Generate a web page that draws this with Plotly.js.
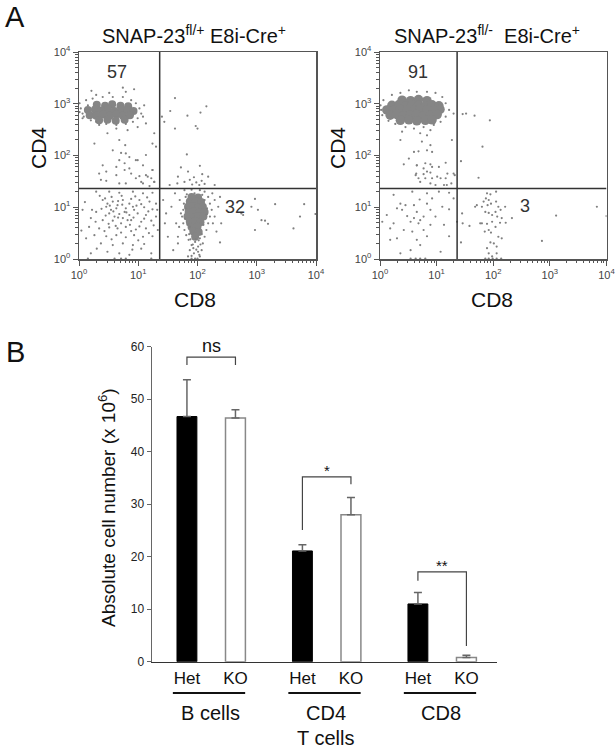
<!DOCTYPE html>
<html>
<head>
<meta charset="utf-8">
<script src="https://cdn.plot.ly/plotly-3.0.1.min.js"></script>
<style>
  body { margin: 0; background: #fff; }
  #fig { width: 616px; height: 750px; }
</style>
</head>
<body>
<div id="fig"></div>
<script>
// ---------- panel A : flow plots, points as [log10 CD8, log10 CD4] ----------
var gateValue = 23;
var quadrantHet = ["57", "32"];
var quadrantKO = ["91", "3"];

// SNAP-23 fl/+ : scattered events
var hetSparse = [
  [0.21,3.25],[0.74,3.31],[0.51,3.21],[0.93,3.28],[0.29,3.17],[0.79,3.23],
  [0.01,3.01],[0.03,2.91],[0.06,2.81],[0.08,2.75],[0.01,2.84],[0.12,3.07],[0.23,3.10],[0.40,3.13],
  [0.57,3.13],[0.74,3.13],[0.88,3.07],[0.96,3.01],[1.02,2.91],[1.05,2.81],[0.99,2.72],[0.91,2.65],
  [0.79,2.61],[0.63,2.59],[0.46,2.61],[0.29,2.65],[0.20,2.68],[1.08,2.75],[1.10,2.97],[0.15,2.97],
  [0.06,2.72],[0.34,2.59],[0.63,2.52],[0.82,2.49],[1.13,2.62],[0.99,2.55],[0.48,2.43],[0.68,2.30],
  [0.26,2.23],[0.78,2.20],[1.27,2.43],[1.24,2.23],[0.57,2.10],[1.30,2.17],
  [0.85,1.97],[0.68,1.91],[0.99,1.91],[1.08,1.81],[0.63,1.78],[0.77,1.72],[0.88,1.65],[0.46,1.69],
  [1.13,1.62],[1.22,1.56],[1.24,1.72],[0.96,1.56],[1.05,1.49],[1.27,1.49],[0.79,1.46],[0.37,1.53],
  [0.71,2.05],[0.79,2.04],[1.13,2.01],[0.40,1.81],[0.77,1.85],[0.85,1.75],[0.96,1.91],[0.34,1.65],
  [0.63,1.62],[1.02,1.60],[1.16,1.59],[1.24,1.72],[1.27,1.49],[0.68,1.46],[0.46,1.51],[1.08,1.46],[1.19,1.41],
  [0.29,1.30],[0.51,1.30],[0.68,1.28],[0.91,1.30],[1.08,1.27],[1.24,1.28],[0.40,1.14],[0.57,1.11],
  [0.74,1.14],[0.85,1.07],[1.02,1.14],[1.19,1.11],[1.30,1.07],[0.46,1.01],[0.63,0.98],[0.79,0.98],
  [0.93,0.95],[1.10,1.00],[1.24,0.96],[0.06,0.95],[0.29,0.91],[0.51,0.88],[0.68,0.87],[0.85,0.85],
  [0.99,0.88],[1.13,0.85],[1.30,0.82],[0.20,0.79],[0.40,0.75],[0.57,0.74],[0.74,0.79],[0.88,0.75],
  [1.05,0.72],[1.22,0.74],[0.17,0.62],[0.34,0.59],[0.51,0.61],[0.65,0.59],[0.79,0.62],[0.96,0.57],
  [1.13,0.59],[1.33,0.56],[0.26,0.46],[0.46,0.44],[0.63,0.46],[0.79,0.42],[0.93,0.46],[1.08,0.43],
  [1.24,0.44],[0.37,0.30],[0.57,0.27],[0.74,0.30],[0.91,0.27],[1.10,0.29],[0.20,0.11],[0.48,0.14],
  [0.68,0.11],[0.85,0.08],[1.22,0.11],[0.15,0.01],[0.60,0.01],[0.71,0.01],[0.79,0.01],[1.22,0.01],
  [0.48,1.07],[0.65,1.04],[0.77,0.91],[0.60,0.82],[0.82,0.75],[0.91,1.01],[0.71,0.69],[0.54,0.95],
  [0.35,1.22],[0.55,1.20],[0.72,1.22],[0.95,1.21],[1.15,1.19],[0.44,1.17],[0.66,1.12],[0.88,1.16],
  [1.05,1.06],[0.52,1.03],[0.73,1.05],[0.97,1.03],[0.38,0.97],[0.58,0.92],[0.80,0.90],[1.17,0.92],
  [0.45,0.84],[0.66,0.80],[0.92,0.80],[1.10,0.78],[0.28,0.72],[0.50,0.68],[0.62,0.64],[0.86,0.66],
  [1.02,0.63],[1.26,0.65],[0.43,0.54],[0.71,0.51],[0.88,0.54],[1.18,0.50],[0.12,0.40],[0.55,0.38],
  [1.00,0.36],[0.30,0.20],[0.90,0.18],[1.05,0.20],[0.04,0.55],[0.10,1.10],[0.22,0.95],[1.32,0.95],
  [1.62,3.11],[1.54,2.86],[1.40,2.75],[1.44,2.65],[1.83,2.77],[2.05,2.83],[2.15,2.95],[1.62,2.52],
  [1.97,2.57],[2.00,2.52],[1.82,2.02],[1.72,1.77],[2.04,1.80],[1.84,1.69],[1.67,1.59],[1.94,1.58],
  [2.08,1.64],[2.18,1.59],[1.78,1.49],[1.87,1.53],[1.98,1.48],[2.07,1.51],[2.12,1.45],[2.29,1.43],
  [1.53,1.43],[1.66,1.46],[1.91,1.44],[2.03,1.43],
  [1.42,1.14],[1.47,0.88],[1.56,1.01],[1.64,0.69],[1.50,0.43],[1.59,0.17],[1.67,0.30],[1.45,0.69],
  [1.62,1.27],[2.38,1.20],[2.35,1.01],[2.40,0.69],[2.38,0.32],[2.29,0.82],[2.32,0.53],[2.77,0.85],
  [2.91,1.01],[2.97,1.16],[3.02,0.95],[3.08,0.75],[3.14,0.74],[3.19,0.68],[3.31,1.06],[3.62,0.59],
  [3.73,0.82],[3.80,1.06],[2.97,0.56],[3.99,0.87],[2.74,0.88],
  [1.78,1.33],[1.90,1.34],[2.04,1.33],[2.12,1.30],[2.18,1.20],[2.21,1.07],[2.24,0.95],[2.21,0.82],
  [2.18,0.69],[2.15,0.56],[2.12,0.43],[2.09,0.30],[2.07,0.17],[2.04,0.05],[1.90,0.01],[1.96,0.01],
  [2.00,0.01],[1.84,0.05],[1.87,0.17],[1.90,0.27],[1.85,0.37],[1.81,0.46],[1.78,0.56],[1.76,0.69],
  [1.74,0.82],[1.76,0.95],[1.77,1.07],[1.80,1.20],[1.96,0.33],[2.01,0.24],[1.94,0.11],[2.01,0.14],
  [1.93,0.21],[2.04,0.40],[1.87,0.62],[2.12,1.14],[1.70,1.14],[1.72,0.88],[1.69,0.62],[1.67,0.43],
  [2.26,0.69],[2.29,1.14],[2.25,1.27],
  [1.82,1.25],[1.95,1.27],[2.08,1.24],[1.80,0.98],[2.16,0.98],[1.79,0.78],[2.15,0.86],[1.83,0.66],
  [2.10,0.66],[1.86,0.48],[2.07,0.48],[1.88,0.38],[2.02,0.36],[1.92,0.28],[2.05,0.28],[1.98,0.18],
  [1.90,0.06],[2.03,0.08],[1.97,0.38]
];
// SNAP-23 fl/+ : dense centres of the two clusters
var hetDense = [
  [0.30,2.98],[0.44,2.96],[0.56,2.99],[0.70,2.96],[0.83,2.95],
  [0.15,2.88],[0.27,2.89],[0.38,2.87],[0.49,2.89],[0.60,2.86],[0.72,2.89],[0.82,2.87],[0.92,2.86],
  [0.18,2.78],[0.29,2.77],[0.41,2.79],[0.52,2.77],[0.63,2.79],[0.74,2.77],[0.86,2.78],
  [0.34,2.68],[0.48,2.69],[0.62,2.67],[0.77,2.69],
  [1.90,1.20],[2.01,1.19],[1.87,1.11],[1.97,1.12],[2.06,1.10],
  [1.84,1.01],[1.93,1.02],[2.01,1.00],[2.09,1.01],[1.85,0.91],[1.94,0.92],[2.03,0.90],[2.12,0.91],
  [1.83,0.82],[1.92,0.81],[2.01,0.83],[2.10,0.82],[1.87,0.72],[1.96,0.73],[2.05,0.71],
  [1.90,0.62],[2.00,0.63],[1.93,0.53],[2.02,0.52],[1.96,0.43]
];

// SNAP-23 fl/- : scattered events
var koSparse = [
  [0.01,2.97],[0.02,2.88],[0.04,2.78],[0.06,3.07],[0.21,3.17],[0.36,3.21],[0.51,3.26],[0.65,3.23],
  [0.83,3.23],[0.98,3.21],[1.10,3.13],[1.16,3.01],[1.22,2.88],[1.16,2.75],[1.07,2.65],[0.95,2.59],
  [0.77,2.55],[0.60,2.52],[0.45,2.55],[0.27,2.61],[0.15,2.67],[1.30,2.81],[0.89,2.49],[0.83,2.39],
  [0.71,2.43],[0.39,2.46],
  [0.36,2.30],[0.74,2.27],[0.89,2.20],[1.27,2.30],[0.83,2.10],[0.51,1.94],[0.65,1.81],[0.77,1.75],
  [0.92,1.78],[0.83,1.69],[0.63,1.62],[1.01,1.59],[1.16,1.56],[0.71,1.49],[0.89,1.46],[1.30,1.65],[1.18,1.43],
  [0.60,2.07],[0.68,2.08],[0.92,2.07],[0.42,1.83],[0.65,1.81],[0.80,1.85],[0.89,1.83],[1.04,1.78],
  [1.16,1.86],[0.64,1.65],[0.77,1.64],[0.89,1.67],[1.19,1.65],[1.32,1.62],[1.07,1.56],[0.68,1.56],
  [0.80,1.56],[0.92,1.56],[0.98,1.43],[1.13,1.43],[1.26,1.46],
  [0.24,1.24],[0.57,1.30],[0.83,1.27],[1.04,1.30],[1.22,1.28],[0.70,1.15],[0.92,1.17],[1.30,1.17],
  [0.36,1.07],[0.45,1.04],[0.60,1.04],[0.83,1.07],[1.10,1.01],[0.30,0.98],[0.39,0.95],[0.65,0.91],
  [0.89,0.95],[1.22,0.96],[0.12,0.85],[0.48,0.83],[0.60,0.79],[0.71,0.75],[0.77,0.82],[0.98,0.82],
  [0.24,0.69],[0.54,0.72],[0.68,0.69],[0.89,0.66],[1.13,0.66],[1.36,0.72],[0.04,0.72],[0.18,0.59],
  [0.42,0.56],[0.57,0.53],[0.77,0.56],[0.83,0.44],[1.22,0.44],[0.30,0.40],[0.65,0.37],[0.71,0.27],
  [0.18,0.37],[0.36,0.11],[0.54,0.17],[1.07,0.14],[0.54,0.01],[0.63,0.01],[0.71,0.01],[0.80,0.01],
  [1.46,2.80],[1.52,2.81],[1.67,2.77],[1.94,2.68],[1.81,2.17],[1.43,1.89],[1.74,1.57],
  [1.89,1.27],[1.95,1.25],[1.87,1.17],[1.92,1.14],[2.05,1.30],[1.83,1.11],[1.90,1.04],[1.96,1.07],
  [2.05,1.11],[2.09,1.01],[1.80,1.01],[1.71,1.04],[1.86,0.91],[1.92,0.89],[2.04,0.91],[2.13,0.95],
  [2.21,1.01],[1.98,0.85],[2.07,0.82],[2.15,0.79],[2.22,0.70],[1.80,0.69],[1.89,0.68],[1.98,0.72],
  [2.04,0.62],[1.92,0.56],[1.85,0.53],[1.96,0.51],[2.09,0.43],[1.95,0.32],[2.01,0.30],[2.06,0.24],
  [1.89,0.21],[1.92,0.11],[1.98,0.05],[2.06,0.11],[1.86,0.01],[1.92,0.01],[1.99,0.01],[2.06,0.01],
  [2.14,0.01],[1.68,1.01],[1.45,0.88],[1.46,0.69],[1.58,0.64],[1.43,0.32],[1.77,0.69],[2.33,0.79],
  [2.12,0.70],[2.86,0.35],[3.11,0.84],[3.83,1.01],[4.00,0.83],[2.15,0.40]
];
// SNAP-23 fl/- : dense centre of the CD4 cluster
var koDense = [
  [0.39,3.07],[0.54,3.06],[0.68,3.08],[0.83,3.06],
  [0.21,2.97],[0.33,2.98],[0.45,2.96],[0.57,2.98],[0.68,2.97],[0.80,2.96],[0.92,2.98],[1.04,2.96],
  [0.12,2.88],[0.24,2.87],[0.36,2.89],[0.48,2.88],[0.60,2.87],[0.71,2.89],[0.83,2.88],[0.95,2.87],[1.06,2.89],
  [0.18,2.78],[0.30,2.79],[0.42,2.77],[0.54,2.78],[0.65,2.79],[0.77,2.77],[0.89,2.78],[1.01,2.79],
  [0.36,2.68],[0.51,2.69],[0.65,2.67],[0.80,2.68],[0.92,2.69]
];

// ---------- panel B : absolute cell numbers (x 10^6) ----------
var cellGroups = ["B cells", "CD4<br>T cells", "CD8"];
var hetMean = [46.7, 21.1, 11.0];
var hetSem = [7.0, 1.2, 2.2];
var koMean = [46.4, 28.0, 0.8];
var koSem = [1.6, 3.3, 0.45];
var sigLabels = ["ns", "*", "**"];
var bracketTop = [58.0, 35.2, 17.1];
var bracketLeftEnd = [56.5, 25.1, 15.4];
var bracketRightEnd = [56.5, 33.8, 3.0];

//helpers
function toVal(e) { return Math.pow(10, e); }
function colX(pts) { return pts.map(function (p) { return toVal(p[0]); }); }
function colY(pts) { return pts.map(function (p) { return toVal(p[1]); }); }

var W = 616, H = 750;
function px(x) { return x / W; }
function py(y) { return 1 - y / H; }

var font = "Liberation Sans, Arial, Helvetica, sans-serif";
var dotColor = "#808080";

var decades = [1, 10, 100, 1000, 10000];
var decadeText = ["10<sup>0</sup>", "10<sup>1</sup>", "10<sup>2</sup>", "10<sup>3</sup>", "10<sup>4</sup>"];
var minorVals = [];
for (var d = 0; d < 4; d++) {
    for (var m = 2; m <= 9; m++) minorVals.push(m * Math.pow(10, d));
}

//traces of panel A
function flowTraces(sparse, dense, denseSize, xa, ya) {
    return [
        {x: colX(dense), y: colY(dense), type: 'scatter', mode: 'markers', xaxis: xa, yaxis: ya,
         marker: {size: denseSize, color: '#858585', line: {width: 0}}, hoverinfo: 'skip'},
        {x: colX(sparse), y: colY(sparse), type: 'scatter', mode: 'markers', xaxis: xa, yaxis: ya,
         marker: {size: 2.2, color: dotColor, line: {width: 0}}, hoverinfo: 'skip'},
        {x: [gateValue, gateValue], y: [1, 10000], type: 'scatter', mode: 'lines', xaxis: xa, yaxis: ya,
         line: {color: '#333', width: 1.5}, hoverinfo: 'skip'},
        {x: [1, 10000], y: [gateValue, gateValue], type: 'scatter', mode: 'lines', xaxis: xa, yaxis: ya,
         line: {color: '#333', width: 1.5}, hoverinfo: 'skip'}
    ];
}

//bar positions: two bars per group
var groupStep = 2.38;
var hetX = cellGroups.map(function (g, i) { return i * groupStep; });
var koX = cellGroups.map(function (g, i) { return i * groupStep + 1; });

var traceHet = {
    x: hetX, y: hetMean, type: 'bar', width: 0.41, xaxis: 'x3', yaxis: 'y3',
    marker: {color: '#000', line: {color: '#000', width: 1}},
    error_y: {type: 'data', symmetric: false, array: hetSem, arrayminus: [0, 0, 0],
              color: '#666', thickness: 1.5, width: 4}
};
var traceKO = {
    x: koX, y: koMean, type: 'bar', width: 0.41, xaxis: 'x3', yaxis: 'y3',
    marker: {color: '#fff', line: {color: '#888', width: 1.5}},
    error_y: {type: 'data', symmetric: false, array: koSem, arrayminus: [0, 0, 0],
              color: '#666', thickness: 1.5, width: 4}
};

var data = []
    .concat(flowTraces(hetSparse, hetDense, 8, 'x', 'y'))
    .concat(flowTraces(koSparse, koDense, 9.5, 'x2', 'y2'))
    .concat([traceHet, traceKO]);

//axes of the flow plots
function logAxis(domain, anchor) {
    return {
        type: 'log', range: [0, 4], domain: domain, anchor: anchor,
        showline: true, mirror: true, linecolor: '#555', linewidth: 1.5,
        showgrid: false, zeroline: false,
        ticks: 'outside', ticklen: 5, tickcolor: '#555', tickwidth: 1,
        tickvals: decades, ticktext: decadeText,
        tickfont: {family: font, size: 11, color: '#444'},
        minor: {ticks: 'outside', ticklen: 2.5, tickcolor: '#555', tickvals: minorVals, showgrid: false},
        fixedrange: true
    };
}

var tickPos = hetX.concat(koX);
var tickLab = hetX.map(function () { return 'Het'; }).concat(koX.map(function () { return 'KO'; }));

var annotations = [
    {text: 'A', x: px(15), y: py(17), font: {size: 29}},
    {text: 'B', x: px(15), y: py(352), font: {size: 29}},
    {text: 'SNAP-23<sup>fl/+</sup> E8i-Cre<sup>+</sup>', x: px(194), y: py(35), font: {size: 20}},
    {text: 'SNAP-23<sup>fl/-</sup>  E8i-Cre<sup>+</sup>', x: px(487), y: py(35), font: {size: 20}},
    {text: 'CD4', x: px(38), y: py(148), textangle: -90, font: {size: 21}},
    {text: 'CD4', x: px(337), y: py(148), textangle: -90, font: {size: 21}},
    {text: 'CD8', x: px(195), y: py(299), font: {size: 21}},
    {text: 'CD8', x: px(492), y: py(299), font: {size: 21}},
    {text: quadrantHet[0], x: px(117), y: py(72), font: {size: 18, color: '#333'}},
    {text: quadrantHet[1], x: px(235), y: py(207), font: {size: 18, color: '#333'}},
    {text: quadrantKO[0], x: px(418), y: py(72), font: {size: 18, color: '#333'}},
    {text: quadrantKO[1], x: px(525), y: py(206), font: {size: 18, color: '#333'}},
    {text: 'Absolute cell number (x 10<sup>6</sup>)', x: px(107), y: py(508), textangle: -90, font: {size: 19}}
].map(function (a) {
    a.xref = 'paper'; a.yref = 'paper'; a.showarrow = false;
    a.xanchor = 'center'; a.yanchor = 'middle';
    a.font.family = font;
    if (!a.font.color) a.font.color = '#111';
    return a;
});

var shapes = [];
cellGroups.forEach(function (g, i) {
    //group label under the Het/KO pair, one annotation per line
    g.split('<br>').forEach(function (line, k) {
        annotations.push({
            text: line, xref: 'x3', yref: 'paper', x: hetX[i] + 0.48, y: py(713 + k * 25),
            xanchor: 'center', yanchor: 'middle',
            showarrow: false, font: {family: font, size: 20, color: '#111'}
        });
    });
    shapes.push({
        type: 'line', xref: 'x3', yref: 'paper', x0: hetX[i] - 0.29, x1: koX[i] + 0.2,
        y0: py(693), y1: py(693), line: {color: '#111', width: 2}
    });
    //significance bracket
    shapes.push({
        type: 'path', xref: 'x3', yref: 'y3',
        path: 'M ' + hetX[i] + ',' + bracketLeftEnd[i] + ' L ' + hetX[i] + ',' + bracketTop[i] +
              ' L ' + koX[i] + ',' + bracketTop[i] + ' L ' + koX[i] + ',' + bracketRightEnd[i],
        line: {color: '#444', width: 1.2}
    });
    annotations.push({
        text: sigLabels[i], xref: 'x3', yref: 'y3', x: (hetX[i] + koX[i]) / 2, y: bracketTop[i],
        xanchor: 'center', yanchor: 'bottom', yshift: i === 0 ? -1 : -4, showarrow: false,
        font: {family: font, size: i === 0 ? 18 : 15, color: '#111'}
    });
});

var layout = {
    width: W, height: H,
    margin: {l: 0, r: 0, t: 0, b: 0},
    paper_bgcolor: '#fff', plot_bgcolor: 'rgba(0,0,0,0)',
    showlegend: false,
    font: {family: font, color: '#111'},
    xaxis: logAxis([px(79), px(316)], 'y'),
    yaxis: logAxis([py(259), py(52)], 'x'),
    xaxis2: logAxis([px(380), px(606.5)], 'y2'),
    yaxis2: logAxis([py(259), py(52)], 'x2'),
    xaxis3: {
        domain: [px(152), px(497)], anchor: 'y3', range: [-0.72, 6.39],
        showline: true, linecolor: '#333', linewidth: 1.5, showgrid: false, zeroline: false,
        ticks: '', tickvals: tickPos, ticktext: tickLab,
        tickfont: {family: font, size: 17, color: '#111'}, fixedrange: true
    },
    yaxis3: {
        domain: [py(661.7), py(346.7)], anchor: 'x3', range: [0, 60], dtick: 10,
        showline: true, linecolor: '#666', linewidth: 1.5, showgrid: false, zeroline: false,
        ticks: 'outside', ticklen: 4, tickcolor: '#666',
        tickfont: {family: font, size: 12, color: '#222'}, fixedrange: true
    },
    annotations: annotations,
    shapes: shapes
};

Plotly.newPlot('fig', data, layout, {displayModeBar: false, staticPlot: true});
</script>
</body>
</html>
